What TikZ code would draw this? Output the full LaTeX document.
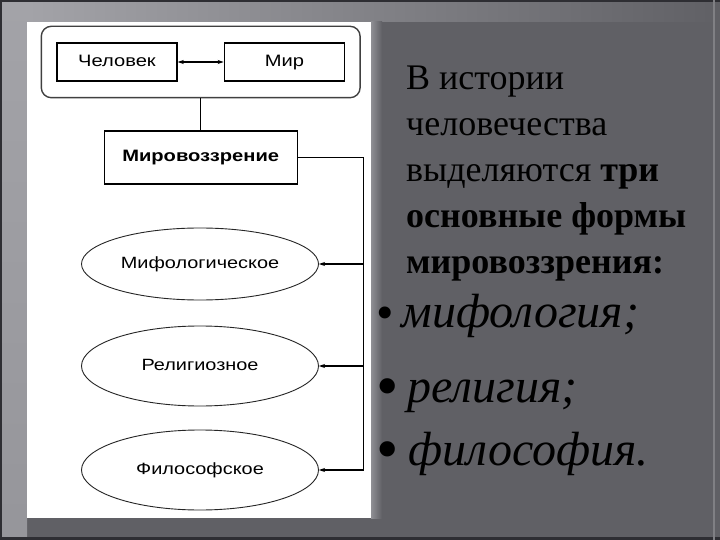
\documentclass[tikz,border=0pt]{standalone}
\usepackage{fontspec}
\setmainfont{Liberation Serif}
\newfontfamily\diagfont[FakeStretch=1.22]{Liberation Sans}
\usetikzlibrary{positioning,shapes.geometric,fit,arrows.meta}

\definecolor{slide}{HTML}{606065}
\definecolor{strip}{HTML}{A3A3A8}
\definecolor{edge}{HTML}{2E2E33}

\tikzset{
  box/.style={draw,line width=1.4pt,minimum width=120pt,minimum height=38pt,
    inner sep=0pt,text height=12pt,text depth=3.5pt,font=\diagfont\fontsize{16.5}{19}\selectfont},
  kind/.style={ellipse,draw=black!85,line width=0.9pt,minimum width=237pt,
    minimum height=72pt,inner sep=0pt,text height=12pt,text depth=3.5pt,
    font=\diagfont\fontsize{16.3}{19}\selectfont},
  wire/.style={line width=1.1pt},
  tip/.style={-{Stealth[length=6pt,width=4pt]}},
  both/.style={{Stealth[length=6pt,width=4pt]}-{Stealth[length=6pt,width=4pt]}},
  txt/.style={anchor=base west,inner sep=0pt,font=\fontsize{36}{40}\selectfont},
  item/.style={anchor=base west,inner sep=0pt,font=\fontsize{48}{52}\selectfont}
}
\newcommand{\bigbullet}[1]{\raisebox{#1}{\fontsize{64}{64}\selectfont•}}

\begin{document}
\begin{tikzpicture}[x=1pt,y=-1pt]
		\useasboundingbox (0,0) rectangle (720,540);
		% slide background
		\fill[slide] (0,0) rectangle (720,540);
		\shade[top color=strip,bottom color=strip!80!slide] (2,0) rectangle (27,540);
		\shade[left color=strip,right color=slide] (27,2) rectangle (720,22);
		\shade[left color=strip!70!slide,right color=slide] (371,22) rectangle (382,518);
		\fill[edge] (0,0) rectangle (720,2);
		\fill[edge] (0,537) rectangle (720,540);
		\fill[edge] (0,0) rectangle (2,540);
		\fill[slide!80!white] (713,0) rectangle (715,540);
		\fill[white] (27,22) rectangle (371,518);
		% diagram
		\node(chel) [box] at (117,62) {Человек};
		\node(mir) [box,right=46pt of chel] {Мир};
		\node(world) [fit=(chel)(mir),inner xsep=15pt,inner ysep=16pt,draw=black!75,
			rounded corners=10pt,line width=1.4pt] {};
		\draw[wire,both] (chel) -- (mir);
		\node(mv) [box,below=32pt of world,minimum width=193pt,minimum height=53pt,
			font=\diagfont\bfseries\fontsize{16.5}{19}\selectfont] {Мировоззрение};
		\draw[wire] (world) -- (mv);
		\node(mif) [kind] at (200,264) {Мифологическое};
		\node(rel) [kind,minimum height=80pt] at (200,366) {Религиозное};
		\node(fil) [kind,minimum height=80pt] at (200,470) {Философское};
		\path (mv.east) ++(66,0) coordinate (bus);
		\draw[wire] (mv.east) -- (bus) -- (bus |- fil.east);
		\foreach \k in {mif,rel,fil}
			\draw[wire,tip] (bus |- \k.east) -- (\k.east);
		% text on the right
		\node(l1) [txt] at (406,90) {В истории};
		\node(l2) [txt] at (406,136) {человечества};
		\node(l3) [txt] at (406,182) {выделяются \textbf{три}};
		\node(l4) [txt] at (406,228) {\textbf{основные формы}};
		\node(l5) [txt] at (406,273) {\textbf{мировоззрения:}};
		\node(i1) [item] at (376,327) {\raisebox{-2pt}{\fontsize{50}{50}\selectfont•}\hspace{8pt}\textit{мифология;}};
		\node(i2) [item] at (376,402) {\bigbullet{-5pt}\hspace{9pt}\textit{религия;}};
		\node(i3) [item] at (376,465) {\bigbullet{-5pt}\hspace{10pt}\textit{философия.}};
	\end{tikzpicture}
\end{document}
